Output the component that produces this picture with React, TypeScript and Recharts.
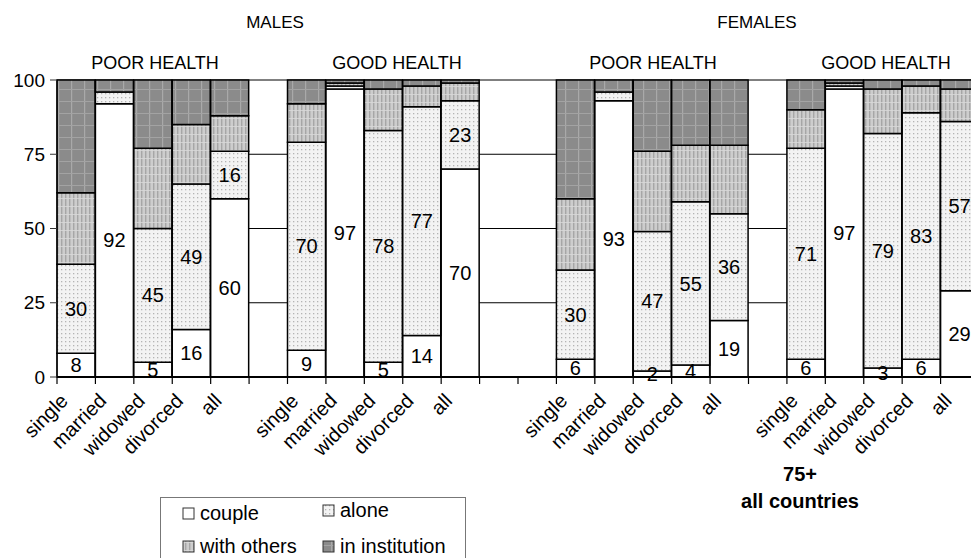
import { BarChart, Bar, XAxis, YAxis, CartesianGrid, LabelList } from 'recharts';

// slots, with empty slots used as gaps between the four panels
const categories = [
  'single', 'married', 'widowed', 'divorced', 'all', '',
  'single', 'married', 'widowed', 'divorced', 'all', '', '',
  'single', 'married', 'widowed', 'divorced', 'all', '',
  'single', 'married', 'widowed', 'divorced', 'all',
];

const couple = [8, 92, 5, 16, 60, null, 9, 97, 5, 14, 70, null, null, 6, 93, 2, 4, 19, null, 6, 97, 3, 6, 29];
const alone = [30, 4, 45, 49, 16, null, 70, 1, 78, 77, 23, null, null, 30, 3, 47, 55, 36, null, 71, 1, 79, 83, 57];
const withOthers = [24, 0, 27, 20, 12, null, 13, 1, 14, 7, 6, null, null, 24, 0, 27, 19, 23, null, 13, 1, 15, 9, 11];
const institution = [38, 4, 23, 15, 12, null, 8, 1, 3, 2, 1, null, null, 40, 4, 24, 22, 22, null, 10, 1, 3, 2, 3];

const yTicks = [0, 25, 50, 75, 100];

const legendItems = [
  { name: 'couple', fill: '#fff' },
  { name: 'alone', fill: 'url(#pAlone)' },
  { name: 'with others', fill: 'url(#pOthers)' },
  { name: 'in institution', fill: 'url(#pInst)' },
];

const chartData = categories.map((name, i) => ({
  name,
  couple: couple[i],
  alone: alone[i],
  withOthers: withOthers[i],
  institution: institution[i],
}));

const FONT = '"Liberation Sans", Arial, Helvetica, sans-serif';
const W = 990;
const H = 558;
const LEFT = 57;
const RIGHT = 11;
const SLOT = (W - LEFT - RIGHT) / categories.length;

const XTick = (props: any) => {
  const { x, y, payload } = props;
  const bx = x - SLOT / 2;
  const tx = x - 7;
  const ty = y + 25;
  return (
    <g>
      <line x1={bx} x2={bx} y1={y} y2={y + 7} stroke="#000" strokeWidth={1.2} />
      <text
        x={tx}
        y={ty}
        transform={`rotate(-45 ${tx} ${ty})`}
        textAnchor="end"
        fontSize={20}
        fontFamily={FONT}
        fill="#000"
      >
        {payload.value}
      </text>
    </g>
  );
};

const hideSmall = (v: any) => (v != null && v >= 5 ? v : '');

export default function App() {
  return (
    <div style={{ position: 'absolute', left: 0, top: 0, width: 971, height: 558, overflow: 'hidden', background: '#fff' }}>
      <BarChart
        width={W}
        height={H}
        data={chartData}
        margin={{ top: 80, right: RIGHT, left: 0, bottom: 0 }}
        barCategoryGap={0}
        barGap={0}
      >
        <CartesianGrid horizontal vertical={false} stroke="#000" strokeWidth={1} />
        <XAxis
          dataKey="name"
          interval={0}
          height={181}
          tickSize={0}
          tickMargin={0}
          tick={<XTick />}
          axisLine={{ stroke: '#000', strokeWidth: 2 }}
        />
        <YAxis
          width={LEFT}
          domain={[0, 100]}
          ticks={yTicks}
          tickSize={7}
          tickMargin={5}
          tickLine={{ stroke: '#333' }}
          axisLine={{ stroke: '#000' }}
          tick={{ fontSize: 19, fill: '#000', fontFamily: FONT }}
        />
        <Bar dataKey="couple" stackId="a" fill="#fff" stroke="#000" strokeWidth={1.5} isAnimationActive={false}>
          <LabelList dataKey="couple" position="center" fill="#000" fontSize={20} fontFamily={FONT} />
        </Bar>
        <Bar dataKey="alone" stackId="a" fill="url(#pAlone)" stroke="#000" strokeWidth={1.5} isAnimationActive={false}>
          <LabelList dataKey="alone" position="center" fill="#000" fontSize={20} fontFamily={FONT} formatter={hideSmall} />
        </Bar>
        <Bar dataKey="withOthers" stackId="a" fill="url(#pOthers)" stroke="#000" strokeWidth={1.5} isAnimationActive={false} />
        <Bar dataKey="institution" stackId="a" fill="url(#pInst)" stroke="#000" strokeWidth={1.5} isAnimationActive={false} />
      </BarChart>

      <svg width={971} height={558} style={{ position: 'absolute', left: 0, top: 0, pointerEvents: 'none' }}>
        <defs>
          <pattern id="pAlone" width="4" height="4" patternUnits="userSpaceOnUse">
            <rect width="4" height="4" fill="#f3f3f3" />
            <rect x="1" y="1" width="1.3" height="1.3" fill="#b4b4b4" />
          </pattern>
          <pattern id="pOthers" width="4" height="8" patternUnits="userSpaceOnUse">
            <rect width="4" height="8" fill="#cdcdcd" />
            <rect x="1" y="0" width="1.4" height="8" fill="#a6a6a6" />
            <rect x="0" y="6" width="4" height="0.8" fill="#dadada" />
          </pattern>
          <pattern id="pInst" width="13" height="12" patternUnits="userSpaceOnUse">
            <rect width="13" height="12" fill="#8b8b8b" />
            <rect x="6" y="0" width="1.2" height="12" fill="#a9a9a9" />
            <rect x="0" y="5" width="13" height="1" fill="#a3a3a3" />
          </pattern>
        </defs>
        <g fontFamily={FONT} fill="#000" textAnchor="middle">
          <text x={275} y={28} fontSize={17}>MALES</text>
          <text x={757} y={28} fontSize={17}>FEMALES</text>
          <text x={155} y={69} fontSize={18}>POOR HEALTH</text>
          <text x={397} y={69} fontSize={18}>GOOD HEALTH</text>
          <text x={653} y={69} fontSize={18}>POOR HEALTH</text>
          <text x={886} y={69} fontSize={18}>GOOD HEALTH</text>
          <text x={800} y={481} fontSize={20} fontWeight="bold">75+</text>
          <text x={800} y={508} fontSize={20} fontWeight="bold">all countries</text>
        </g>
        <rect x={160.5} y={497.5} width={305} height={80} fill="none" stroke="#777" strokeWidth={1} />
        <g fontFamily={FONT} fontSize={20} fill="#000">
          {legendItems.map((it, i) => {
            const col = i % 2;
            const row = Math.floor(i / 2);
            const sx = col === 0 ? 183 : 323;
            const sy = row === 0 ? (col === 0 ? 508 : 505) : 541;
            return (
              <g key={it.name}>
                <rect x={sx} y={sy} width={11} height={11} fill={it.fill} stroke="#333" strokeWidth={1} />
                <text x={sx + 17} y={sy + 12}>{it.name}</text>
              </g>
            );
          })}
        </g>
      </svg>
    </div>
  );
}
